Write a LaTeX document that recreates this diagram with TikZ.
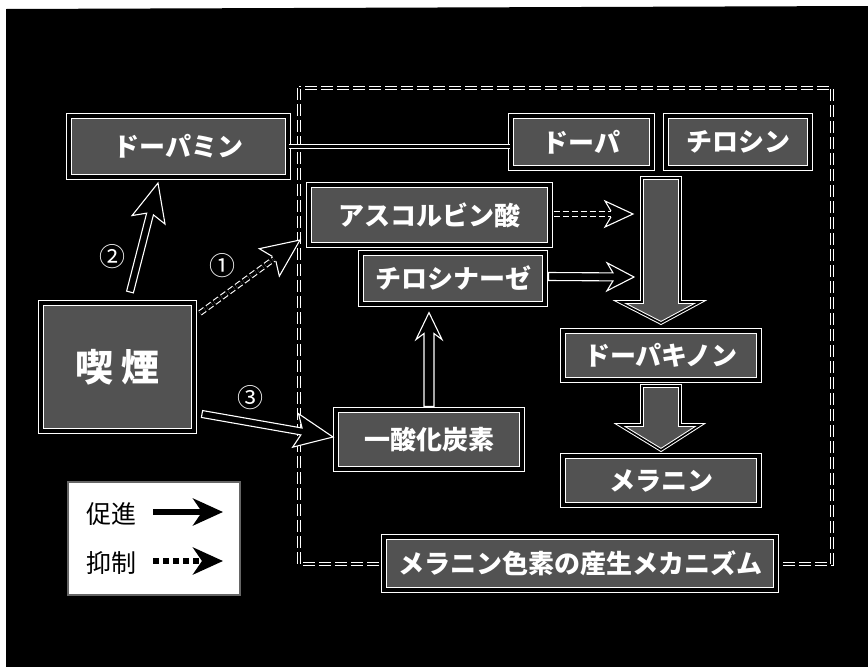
\documentclass[tikz,border=0pt]{standalone}
\usepackage{fontspec}
\setmainfont{Noto Sans CJK JP}
\usetikzlibrary{calc,arrows.meta}
\definecolor{boxgray}{HTML}{525252}
\tikzset{
  dbox/.style={draw=white, double=black, double distance=3.4pt, line width=1.1pt,
    fill=boxgray, text=white, inner sep=0pt, font=\fontsize{26}{30}\selectfont\bfseries},
  harrow/.style={draw=white, fill=black, line width=1.1pt, line join=miter},
  dshaft/.style={draw=white, double=black, double distance=3.6pt, line width=1.1pt,
    dash pattern=on 6pt off 3pt},
  dashframe/.style={draw=white, double=black, double distance=2.2pt, line width=0.9pt,
    dash pattern=on 12pt off 4pt},
  blockarrow/.style={draw=white, double=black, double distance=1.6pt, line width=1pt,
    fill=boxgray, line join=miter},
  numlabel/.style={text=white, font=\fontsize{26}{28}\selectfont, inner sep=0pt},
  legtext/.style={text=black, font=\fontsize{25}{28}\selectfont, inner sep=0pt},
  legarrow/.style={draw=black, line width=6pt, -{Stealth[length=30pt, width=27pt, inset=9pt]}},
}
% #1 options, #2 tail, #3 tip, #4 shaft half width, #5 head length, #6 head half width
\newcommand{\hollowarrow}[6][]{%
  \coordinate (hs) at ($(#3)!#5-6pt!(#2)$);
  \coordinate (hb) at ($(#3)!#5!(#2)$);
  \filldraw[harrow,#1] ($(#2)!#4!90:(#3)$) -- ($(hs)!#4!90:(#3)$) -- ($(hb)!#6!90:(#3)$)
    -- (#3) -- ($(hb)!#6!-90:(#3)$) -- ($(hs)!#4!-90:(#3)$) -- ($(#2)!#4!-90:(#3)$) -- cycle;
}
\newcommand{\dottedhollowarrow}[6][]{%
  \coordinate (hs) at ($(#3)!#5-6pt!(#2)$);
  \coordinate (hb) at ($(#3)!#5!(#2)$);
  \draw[dshaft,#1] (#2) -- (hs);
  \filldraw[harrow,#1] ($(hs)!#4!90:(#3)$) -- ($(hb)!#6!90:(#3)$)
    -- (#3) -- ($(hb)!#6!-90:(#3)$) -- ($(hs)!#4!-90:(#3)$);
}
\begin{document}
\begin{tikzpicture}[x=1pt, y=-1pt]
\useasboundingbox (0,0) rectangle (868,667);
\fill[white] (0,0) rectangle (868,667);
\fill[black] (6,9) -- (868,6) -- (868,667) -- (6,667) -- cycle;

% dashed frame of the mechanism
\draw[dashframe] (299,88) rectangle (832,564);

% boxes
\node[dbox, minimum width=219pt, minimum height=61pt] (dopamine) at (178.5,146.5) {ドーパミン};
\node[dbox, minimum width=141pt, minimum height=52pt] (dopa) at (581.5,142) {ドーパ};
\node[dbox, minimum width=144pt, minimum height=52pt] (tyrosine) at (738,142) {チロシン};
\node[dbox, minimum width=241pt, minimum height=60pt] (asc) at (429.5,215) {アスコルビン酸};
\node[dbox, minimum width=184pt, minimum height=51pt] (tyr) at (453,278.5) {チロシナーゼ};
\node[dbox, minimum width=196pt, minimum height=49pt] (dq) at (661,355.5) {ドーパキノン};
\node[dbox, minimum width=196pt, minimum height=49pt] (mel) at (661,480.5) {メラニン};
\node[dbox, minimum width=186pt, minimum height=59pt] (co) at (429,439.5) {一酸化炭素};
\node[dbox, minimum width=153pt, minimum height=128pt, font=\fontsize{38}{42}\selectfont\bfseries] (smk) at (117.5,367) {喫\hspace{0.2em}煙};
\node[dbox, minimum width=392pt, minimum height=53pt] (title) at (580,563.5) {メラニン色素の産生メカニズム};

% line from dopamine to dopa
\draw[draw=white, double=black, double distance=3.4pt, line width=1pt]
  (dopamine.east) -- (dopamine.east -| dopa.west);

% block arrows
\filldraw[blockarrow] (642,178) -- (680,178) -- (680,302) -- (700,302) -- (661,323)
  -- (620,302) -- (642,302) -- cycle;
\filldraw[blockarrow] (642,386) -- (680,386) -- (680,425) -- (700,425) -- (661,450)
  -- (620,425) -- (642,425) -- cycle;

% connector end points
\coordinate (a1t) at (200,313);
\coordinate (a1h) at (300,240);
\coordinate (a2t) at (130,292);
\coordinate (a2h) at (158,183);
\coordinate (a3t) at (202,414);
\coordinate (a3h) at (333,437);
\coordinate (ascE) at ($(asc.east)+(3,-1)$);
\coordinate (ascH) at (633,214);
\coordinate (tyrE) at ($(tyr.east)+(3,-2)$);
\coordinate (tyrH) at (634,277);
\coordinate (coN) at ($(co.north)+(0,-3)$);
\coordinate (tyrS) at ($(tyr.south)+(-24,8)$);

% arrows
\dottedhollowarrow{a1t}{a1h}{3pt}{38pt}{17pt}
\hollowarrow{a2t}{a2h}{3.5pt}{38pt}{17pt}
\hollowarrow{a3t}{a3h}{3.5pt}{38pt}{17pt}
\dottedhollowarrow{ascE}{ascH}{3pt}{28pt}{13pt}
\hollowarrow{tyrE}{tyrH}{4pt}{27pt}{14pt}
\hollowarrow{coN}{tyrS}{5pt}{27pt}{13pt}

% labels of the arrows
\node[numlabel] (n1) at (222,266) {①};
\node[numlabel] (n2) at (112,257) {②};
\node[numlabel] (n3) at (250,398) {③};

% legend
\node[draw=black!60, fill=white, line width=1.2pt, minimum width=172pt, minimum height=113pt, inner sep=0pt] (legend) at (154,538.5) {};
\node[legtext] (promote) at (111,514) {促進};
\node[legtext] (inhibit) at (111,563) {抑制};
\coordinate (p1) at (153,512);
\coordinate (p2) at (223,512);
\coordinate (q1) at (153,561);
\coordinate (q2) at (223,561);
\draw[legarrow] (p1) -- (p2);
\draw[legarrow, dash pattern=on 6pt off 4pt] (q1) -- (q2);
\end{tikzpicture}
\end{document}
